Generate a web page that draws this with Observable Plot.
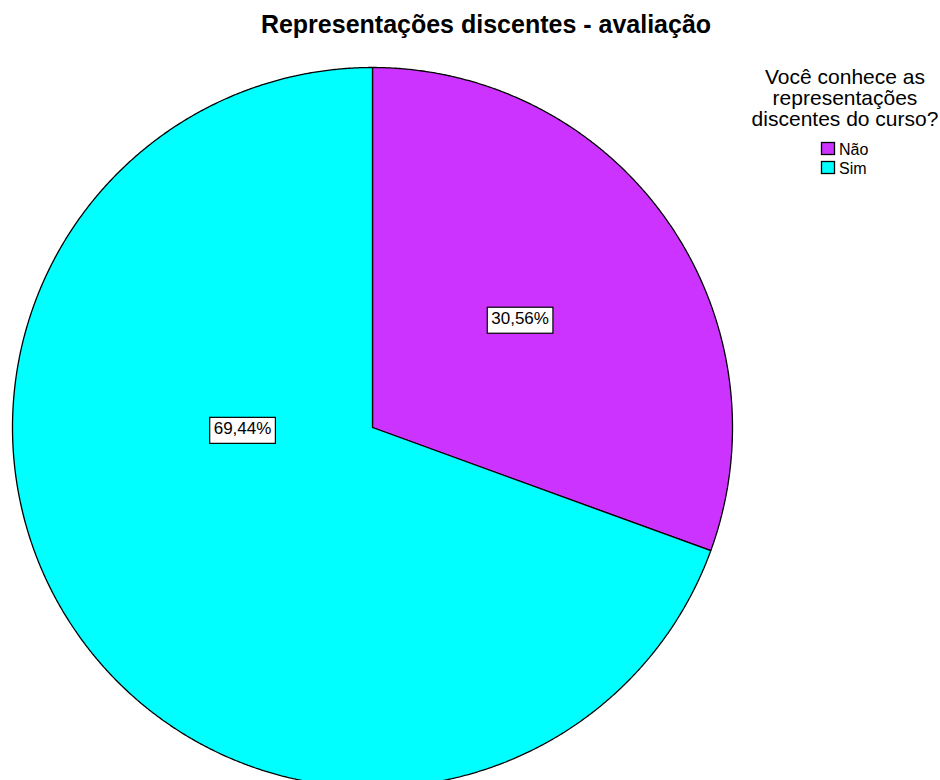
<!DOCTYPE html>
<html>
<head>
<meta charset="utf-8">
<script src="https://cdn.jsdelivr.net/npm/d3@7"></script>
<script src="https://cdn.jsdelivr.net/npm/@observablehq/plot@0.6"></script>
<style>
  body { margin: 0; background: #fff; }
  #chart { width: 940px; height: 780px; overflow: hidden; position: relative; }
  svg { font-family: "Liberation Sans", Arial, sans-serif; }
</style>
</head>
<body>
<div id="chart"></div>
<script>
// ---- data ----
const title = "Representações discentes - avaliação";
const legendTitle = ["Você conhece as", "representações", "discentes do curso?"];
const categories = ["Não", "Sim"];
const percents = [30.56, 69.44];
const colors = ["#CC33FF", "#00FFFF"];
const labels = ["30,56%", "69,44%"];

// ---- layout ----
// label placement per slice: [angle in degrees clockwise from top, radius fraction]
const labelPlacement = [[53.5, 0.51], [269.6, 0.361]];

const pie = d3.pie().sort(null).value(d => d.value)(
  categories.map((c, i) => ({category: c, value: percents[i], color: colors[i], label: labels[i]}))
);

// build slice outlines (unit circle, angle measured clockwise from top)
const slicePts = [];
pie.forEach(s => {
  const pts = [{x: 0, y: 0}];
  const n = Math.max(2, Math.ceil((s.endAngle - s.startAngle) / 0.005));
  for (let k = 0; k <= n; k++) {
    const a = s.startAngle + (s.endAngle - s.startAngle) * k / n;
    pts.push({x: Math.sin(a), y: Math.cos(a)});
  }
  pts.push({x: 0, y: 0});
  pts.forEach(p => slicePts.push({...p, category: s.data.category}));
});

const labelData = pie.map((s, i) => {
  const [deg, r] = labelPlacement[i];
  const a = deg * Math.PI / 180;
  return {x: r * Math.sin(a), y: r * Math.cos(a), label: s.data.label};
});

const W = 940, H = 780, cx = 372, cy = 427, R = 360;

const plot = Plot.plot({
  width: W,
  height: H,
  marginLeft: cx - R,
  marginRight: W - (cx + R),
  marginTop: cy - R,
  marginBottom: 0,
  x: {domain: [-1, 1], axis: null},
  y: {domain: [-(H - cy) / R, 1], axis: null},
  style: {background: "white", overflow: "hidden"},
  marks: [
    ...categories.map((c, i) => Plot.line(slicePts.filter(d => d.category === c), {
      x: "x", y: "y", fill: colors[i], stroke: "black", strokeWidth: 1.3, strokeLinejoin: "miter"
    })),
    Plot.text(labelData, {
      x: "x", y: "y", text: "label", fontSize: 17, fill: "black",
      fontFamily: "Liberation Sans, Arial, sans-serif"
    })
  ]
});

document.getElementById("chart").appendChild(plot);

const svg = d3.select(plot);

// white boxes behind slice labels
svg.selectAll("g[aria-label='text'] text").each(function () {
  const bb = this.getBBox();
  const r = d3.select(this.parentNode).insert("rect", () => this)
    .attr("x", bb.x - 4).attr("y", bb.y - 1.5)
    .attr("width", bb.width + 8).attr("height", bb.height + 7)
    .attr("fill", "white").attr("stroke", "black").attr("stroke-width", 1.2);
  const tf = this.getAttribute("transform");
  if (tf) r.attr("transform", tf);
});

// title
svg.append("text")
  .attr("x", 486).attr("y", 33)
  .attr("text-anchor", "middle")
  .attr("font-size", 25).attr("font-weight", "bold")
  .attr("fill", "black")
  .text(title);

// legend
const lg = svg.append("g");
legendTitle.forEach((t, i) => {
  lg.append("text")
    .attr("x", 845).attr("y", 84 + i * 21)
    .attr("text-anchor", "middle")
    .attr("font-size", 21).attr("fill", "black")
    .text(t);
});
categories.forEach((c, i) => {
  lg.append("rect")
    .attr("x", 821.5).attr("y", 142.5 + i * 19)
    .attr("width", 13).attr("height", 12)
    .attr("fill", colors[i]).attr("stroke", "black").attr("stroke-width", 1.3);
  lg.append("text")
    .attr("x", 839).attr("y", 155 + i * 19)
    .attr("text-anchor", "start")
    .attr("font-size", 16).attr("fill", "black")
    .text(c);
});
</script>
</body>
</html>
